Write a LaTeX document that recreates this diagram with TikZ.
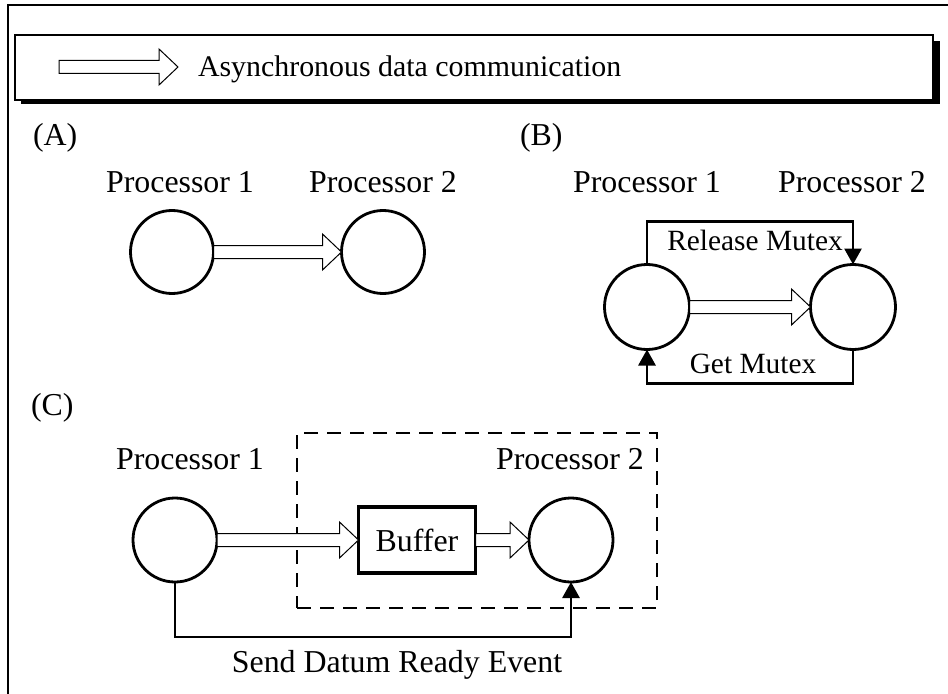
\documentclass[tikz,border=0pt]{standalone}
\usepackage{fontspec}
\setmainfont{Liberation Serif}
\usetikzlibrary{arrows.meta,calc}

\begin{document}
\begin{tikzpicture}[x=1bp,y=-1bp,
  every node/.style={inner sep=0pt, outer sep=0pt},
  lbl/.style={font=\fontsize{32}{38}\selectfont, anchor=base},
  sig/.style={font=\fontsize{29.5}{36}\selectfont, anchor=base},
  proc/.style={circle, draw, line width=2.8bp, minimum size=83bp},
  hollowarrow/.style={draw, fill=white, line width=1bp, line join=miter,
    to path={let \p1=(\tikztostart), \p2=(\tikztotarget) in
      (\x1,\y1+6.5bp) -- (\x2-19bp,\y1+6.5bp) -- (\x2-19bp,\y1+18bp) -- (\x2,\y1)
      -- (\x2-19bp,\y1-18bp) -- (\x2-19bp,\y1-6.5bp) -- (\x1,\y1-6.5bp) -- cycle}},
  signal/.style={draw, line width=2.8bp, -{Triangle[length=16bp,width=17bp]}},
]
\useasboundingbox (0,0) rectangle (948,694);

% outer frame (top and left edges)
\draw[line width=2bp] (948,5) -- (8,5) -- (8,694);

% legend box with drop shadow
\fill[black] (21,41) rectangle (940,104);
\draw[fill=white, line width=1.5bp] (15,35) rectangle (933,100);
\coordinate (lgA) at (59,67);
\coordinate (lgB) at (178,67);
\draw[hollowarrow] (lgA) to (lgB);
\node[font=\fontsize{30}{36}\selectfont, anchor=base west] (legtxt) at (198,77) {Asynchronous data communication};

% (A) plain asynchronous transfer
\node[lbl, anchor=base west] (labA) at (33,146) {(A)};
\node[lbl] (pA1) at (180,192) {Processor 1};
\node[lbl] (pA2) at (383,192) {Processor 2};
\node[proc] (a1) at (172,252) {};
\node[proc] (a2) at (383,252) {};
\draw[hollowarrow] (a1.east) to (a2.west);

% (B) transfer guarded by a mutex
\node[lbl, anchor=base west] (labB) at (520,146) {(B)};
\node[lbl] (pB1) at (647,192) {Processor 1};
\node[lbl] (pB2) at (852,192) {Processor 2};
\node[proc, minimum size=85bp] (b1) at (647,307) {};
\node[proc, minimum size=85bp] (b2) at (853,307) {};
\draw[hollowarrow] (b1.east) to (b2.west);
\draw[signal] (b1.north) -- ++(0,-43) -| (b2.north);
\node[sig] (relm) at (755,250) {Release Mutex};
\draw[signal] (b2.south) -- ++(0,34) -| (b1.south);
\node[sig] (getm) at (753,373) {Get Mutex};

% (C) transfer through a buffer on processor 2
\node[lbl, anchor=base west] (labC) at (31,415) {(C)};
\node[draw, dashed, dash pattern=on 14bp off 9bp, line width=1.5bp,
      minimum width=360bp, minimum height=175bp] (zone) at (477,520.5) {};
\node[lbl] (pC1) at (190,469) {Processor 1};
\node[lbl] (pC2) at (570,469) {Processor 2};
\node[proc, minimum width=83bp, minimum height=84bp] (c1) at (175,540) {};
\node[proc, minimum width=83bp, minimum height=84bp] (c2) at (571,540) {};
\node[draw, line width=3.2bp, minimum width=117bp, minimum height=66bp,
      font=\fontsize{32}{38}\selectfont] (buf) at (417,540) {Buffer};
\draw[hollowarrow] (c1.east) to (buf.west);
\draw[hollowarrow] (buf.east) to (c2.west);
\draw[signal] (c1.south) -- ++(0,55) -| (c2.south);
\node[lbl] (evt) at (397,672) {Send Datum Ready Event};
\end{tikzpicture}
\end{document}
